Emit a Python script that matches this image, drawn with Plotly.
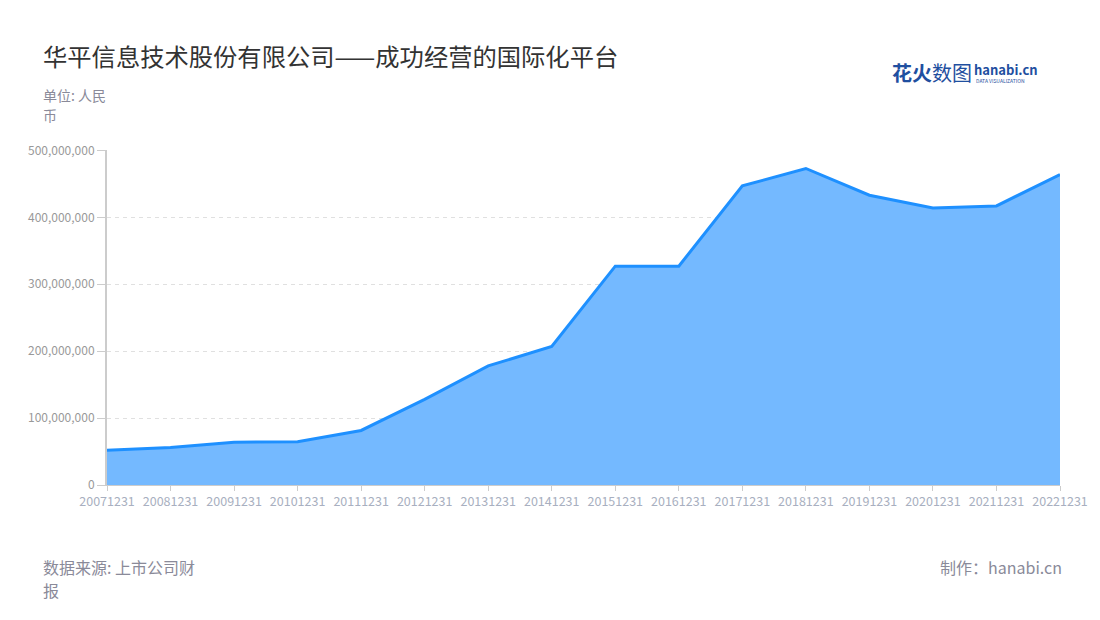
import plotly.graph_objects as go

years = ["20071231", "20081231", "20091231", "20101231", "20111231", "20121231",
         "20131231", "20141231", "20151231", "20161231", "20171231", "20181231",
         "20191231", "20201231", "20211231", "20221231"]
revenue = [52e6, 56e6, 64e6, 64.5e6, 81.5e6, 128e6, 178e6, 207e6, 327e6, 327e6,
           447e6, 473e6, 433e6, 414e6, 417e6, 464e6]
y_ticks = [0, 100e6, 200e6, 300e6, 400e6, 500e6]
y_labels = ["0", "100,000,000", "200,000,000", "300,000,000", "400,000,000", "500,000,000"]

FONT = "Noto Sans CJK SC"

fig = go.Figure()
fig.add_trace(go.Scatter(
    x=years, y=revenue, mode="lines",
    line=dict(color="#1e90ff", width=3),
    fill="tozeroy", fillcolor="rgba(116,185,255,1)",
    hoverinfo="x+y"
))

# page offset of 8px (body margin) compensated in margins
fig.update_layout(
    width=1100, height=620,
    margin=dict(l=99, r=48, t=142, b=143, autoexpand=False),
    paper_bgcolor="white", plot_bgcolor="white",
    showlegend=False,
    font=dict(family=FONT),
    xaxis=dict(
        type="category", range=[0, len(years) - 1],
        showgrid=False, showline=True, linecolor="#cccccc", linewidth=1,
        ticks="outside", ticklen=5, tickcolor="#cccccc",
        tickfont=dict(size=12.5, color="#a8afc0", family=FONT),
        zeroline=False,
    ),
    yaxis=dict(
        range=[0, 500.6e6], tickvals=y_ticks, ticktext=y_labels,
        showgrid=True, gridcolor="#e0e0e0", griddash="4px,4px", gridwidth=1,
        showline=True, linecolor="#cccccc", linewidth=2,
        ticks="outside", ticklen=8, tickcolor="#cccccc",
        tickfont=dict(size=12, color="#999999", family=FONT),
        zeroline=False,
    ),
)

# Map page pixel coords to paper coords: plot area spans x 107..1060, y 150..485
def P(x, y):
    return (x - 107) / (1060 - 107), (485 - y) / (485 - 150)

def ann(text, x, y, size, color, xanchor="left", yanchor="middle", align="left"):
    px_, py_ = P(x, y)
    return dict(text=text, x=px_, y=py_, xref="paper", yref="paper",
                xanchor=xanchor, yanchor=yanchor, align=align, showarrow=False,
                borderpad=0,
                font=dict(size=size, color=color, family=FONT))

fig.update_layout(annotations=[
    ann("华平信息技术股份有限公司——成功经营的国际化平台", 42, 55, 24.3, "#333333"),
    ann("单位: 人民", 42, 95, 14, "#8a8a99"),
    ann("币", 42, 115, 14, "#8a8a99"),
    ann("数据来源: 上市公司财", 42, 567, 16, "#8a8a99"),
    ann("报", 42, 590, 16, "#8a8a99"),
    ann("制作：hanabi.cn", 1063, 567, 16, "#8a8a99", xanchor="right"),
    ann("<b>花火</b>数图", 891, 72, 20, "#1f4fa0"),
    ann("<b>hanabi.cn</b>", 973, 69, 13, "#1f4fa0"),
    ann("DATA VISUALIZATION", 975, 80, 5, "#1f4fa0"),
])

fig.write_html("out.html")
